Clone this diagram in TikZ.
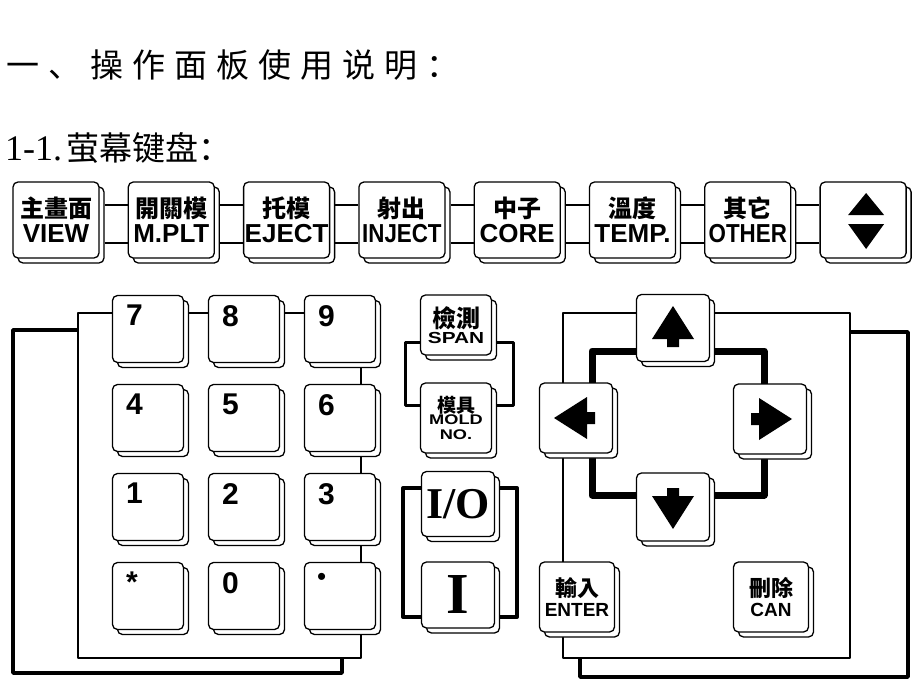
\documentclass[tikz,border=0pt]{standalone}
\usepackage{fontspec}
\setmainfont{Liberation Sans}
\newfontfamily\cjk{Noto Sans CJK TC}
\newfontfamily\cjksc{Noto Sans CJK SC}
\newfontfamily\serifnum{Liberation Serif}
\newfontfamily\widesans{Liberation Sans}[FakeStretch=1.3]
\newfontfamily\narrowsans{Liberation Sans}[FakeStretch=0.86]
\usetikzlibrary{shadows}

% filled arrow glyph on a key: node, angle
\newcommand{\keyarrow}[2]{%
  \fill[shift={(#1.center)},rotate=#2] (0,-22) -- (21,11) -- (6,11) -- (6,19) -- (-6,19) -- (-6,11) -- (-21,11) -- cycle;}

\begin{document}
\begin{tikzpicture}[x=1pt,y=-1pt,line join=round]
\tikzstyle{keyface}=[rectangle,draw,line width=1.3pt,rounded corners=5pt,fill=white,inner sep=0pt,
  copy shadow={shadow xshift=5pt,shadow yshift=-5pt,draw=black,fill=white}]
\tikzstyle{topkey}=[keyface,minimum width=86pt,minimum height=76pt,align=center]
\tikzstyle{padkey}=[keyface,minimum width=71pt,minimum height=67pt]
\tikzstyle{arrowkey}=[keyface,minimum width=73pt,minimum height=68pt,align=center]
\tikzstyle{digit}=[anchor=north west,inner sep=0pt,font=\fontsize{30}{30}\selectfont\bfseries]
\useasboundingbox (0,0) rectangle (920,690);

% headings
\node[anchor=west,inner sep=0pt,font=\cjksc\fontsize{33}{33}\selectfont] (title) at (6,65)
  {一\kern9pt、\kern9pt操\kern9pt作\kern9pt面\kern9pt板\kern9pt使\kern9pt用\kern9pt说\kern9pt明\kern9pt：};
\node[anchor=west,inner sep=0pt] (subtitle) at (5,148)
  {{\serifnum\fontsize{36}{36}\selectfont 1-1.}\kern4pt{\cjksc\fontsize{33}{33}\selectfont 萤幕键盘：}};

% top row of function keys
\foreach \name/\zh/\en [count=\i from 0] in {view/主畫面/VIEW, mplt/開關模/M.PLT, eject/托模/EJECT,
    inject/射出/\narrowsans INJECT, core/中子/CORE, temp/溫度/TEMP., other/其它/\narrowsans OTHER}
  \node[topkey] (\name) at (56+115.3*\i,220)
    {{\cjk\bfseries\fontsize{24}{24}\selectfont \zh}\\[4pt]{\fontsize{26}{26}\selectfont\bfseries \en}};
\node[topkey] (page) at (56+115.3*7,220) {};
\fill ([xshift=3pt,yshift=27pt]page.center) -- ++(18,22) -- ++(-36,0) -- cycle;
\fill ([xshift=3pt,yshift=-29pt]page.center) -- ++(18,-25) -- ++(-36,0) -- cycle;
\foreach \a/\b in {view/mplt, mplt/eject, eject/inject, inject/core, core/temp, temp/other, other/page}{
  \draw[line width=1.6pt] ([xshift=5pt,yshift=15pt]\a.east) -- ([yshift=15pt]\b.west);
  \draw[line width=1.6pt] ([xshift=5pt,yshift=-23pt]\a.east) -- ([yshift=-23pt]\b.west);
}

% numeric pad
\draw[line width=3.5pt] (13,330) rectangle (342,673);
\draw[line width=1.2pt,fill=white] (78,313) rectangle (361,658);
\foreach \name/\lab/\col/\row in {k7/7/0/0, k8/8/1/0, k9/9/2/0, k4/4/0/1, k5/5/1/1, k6/6/2/1,
    k1/1/0/2, k2/2/1/2, k3/3/2/2, kstar/*/0/3, k0/0/1/3}{
  \node[padkey] (\name) at (148+96*\col,329+89*\row) {};
  \node[digit] (\name-l) at ([xshift=14pt,yshift=-10pt]\name.north west) {\lab};
}
\node[padkey] (kdot) at (340,596) {};
\node[digit,font=\fontsize{26}{26}\selectfont] (kdot-l) at ([xshift=13pt,yshift=-11pt]kdot.north west) {\textbullet};

% middle keys
\draw[line width=3pt] (405,342) rectangle (513,405);
\draw[line width=4pt] (403,488) rectangle (517,617);
\node[keyface,minimum width=71pt,minimum height=60pt,align=center] (span) at (456,325)
  {{\cjk\bfseries\fontsize{24}{24}\selectfont 檢測}\\[2pt]{\widesans\bfseries\fontsize{16}{16}\selectfont SPAN}};
\node[keyface,minimum width=71pt,minimum height=70pt,align=center] (mold) at (456,418)
  {{\cjk\bfseries\fontsize{19}{19}\selectfont 模具}\\[0pt]{\widesans\bfseries\fontsize{14}{14}\selectfont MOLD}\\[3pt]{\widesans\bfseries\fontsize{14}{14}\selectfont NO.}};
\node[keyface,minimum width=73pt,minimum height=65pt] (onoff) at (458,504)
  {\serifnum\bfseries\fontsize{44}{44}\selectfont I/O};
\node[keyface,minimum width=73pt,minimum height=66pt] (on) at (458,595)
  {\serifnum\bfseries\fontsize{58}{58}\selectfont I};

% cursor pad
\draw[line width=3.5pt] (580,332) rectangle (908,677);
\draw[line width=1.2pt,fill=white] (563,313) rectangle (850,658);
\draw[line width=7pt] (592,351) rectangle (764,495);
\node[arrowkey,minimum height=67pt] (up) at (673,328) {};
\node[arrowkey,minimum height=70pt] (left) at (576,418) {};
\node[arrowkey,minimum height=70pt] (right) at (770,419) {};
\node[arrowkey,minimum height=68pt] (down) at (673,507) {};
\keyarrow{up}{0}
\keyarrow{left}{90}
\keyarrow{right}{-90}
\keyarrow{down}{180}
\node[arrowkey,minimum width=75pt,minimum height=70pt] (enter) at (577,597)
  {{\cjk\bfseries\fontsize{22}{22}\selectfont 輸入}\\[4pt]{\bfseries\fontsize{19}{19}\selectfont ENTER}};
\node[arrowkey,minimum width=75pt,minimum height=70pt] (can) at (771,597)
  {{\cjk\bfseries\fontsize{22}{22}\selectfont 刪除}\\[4pt]{\bfseries\fontsize{19}{19}\selectfont CAN}};
\end{tikzpicture}
\end{document}
